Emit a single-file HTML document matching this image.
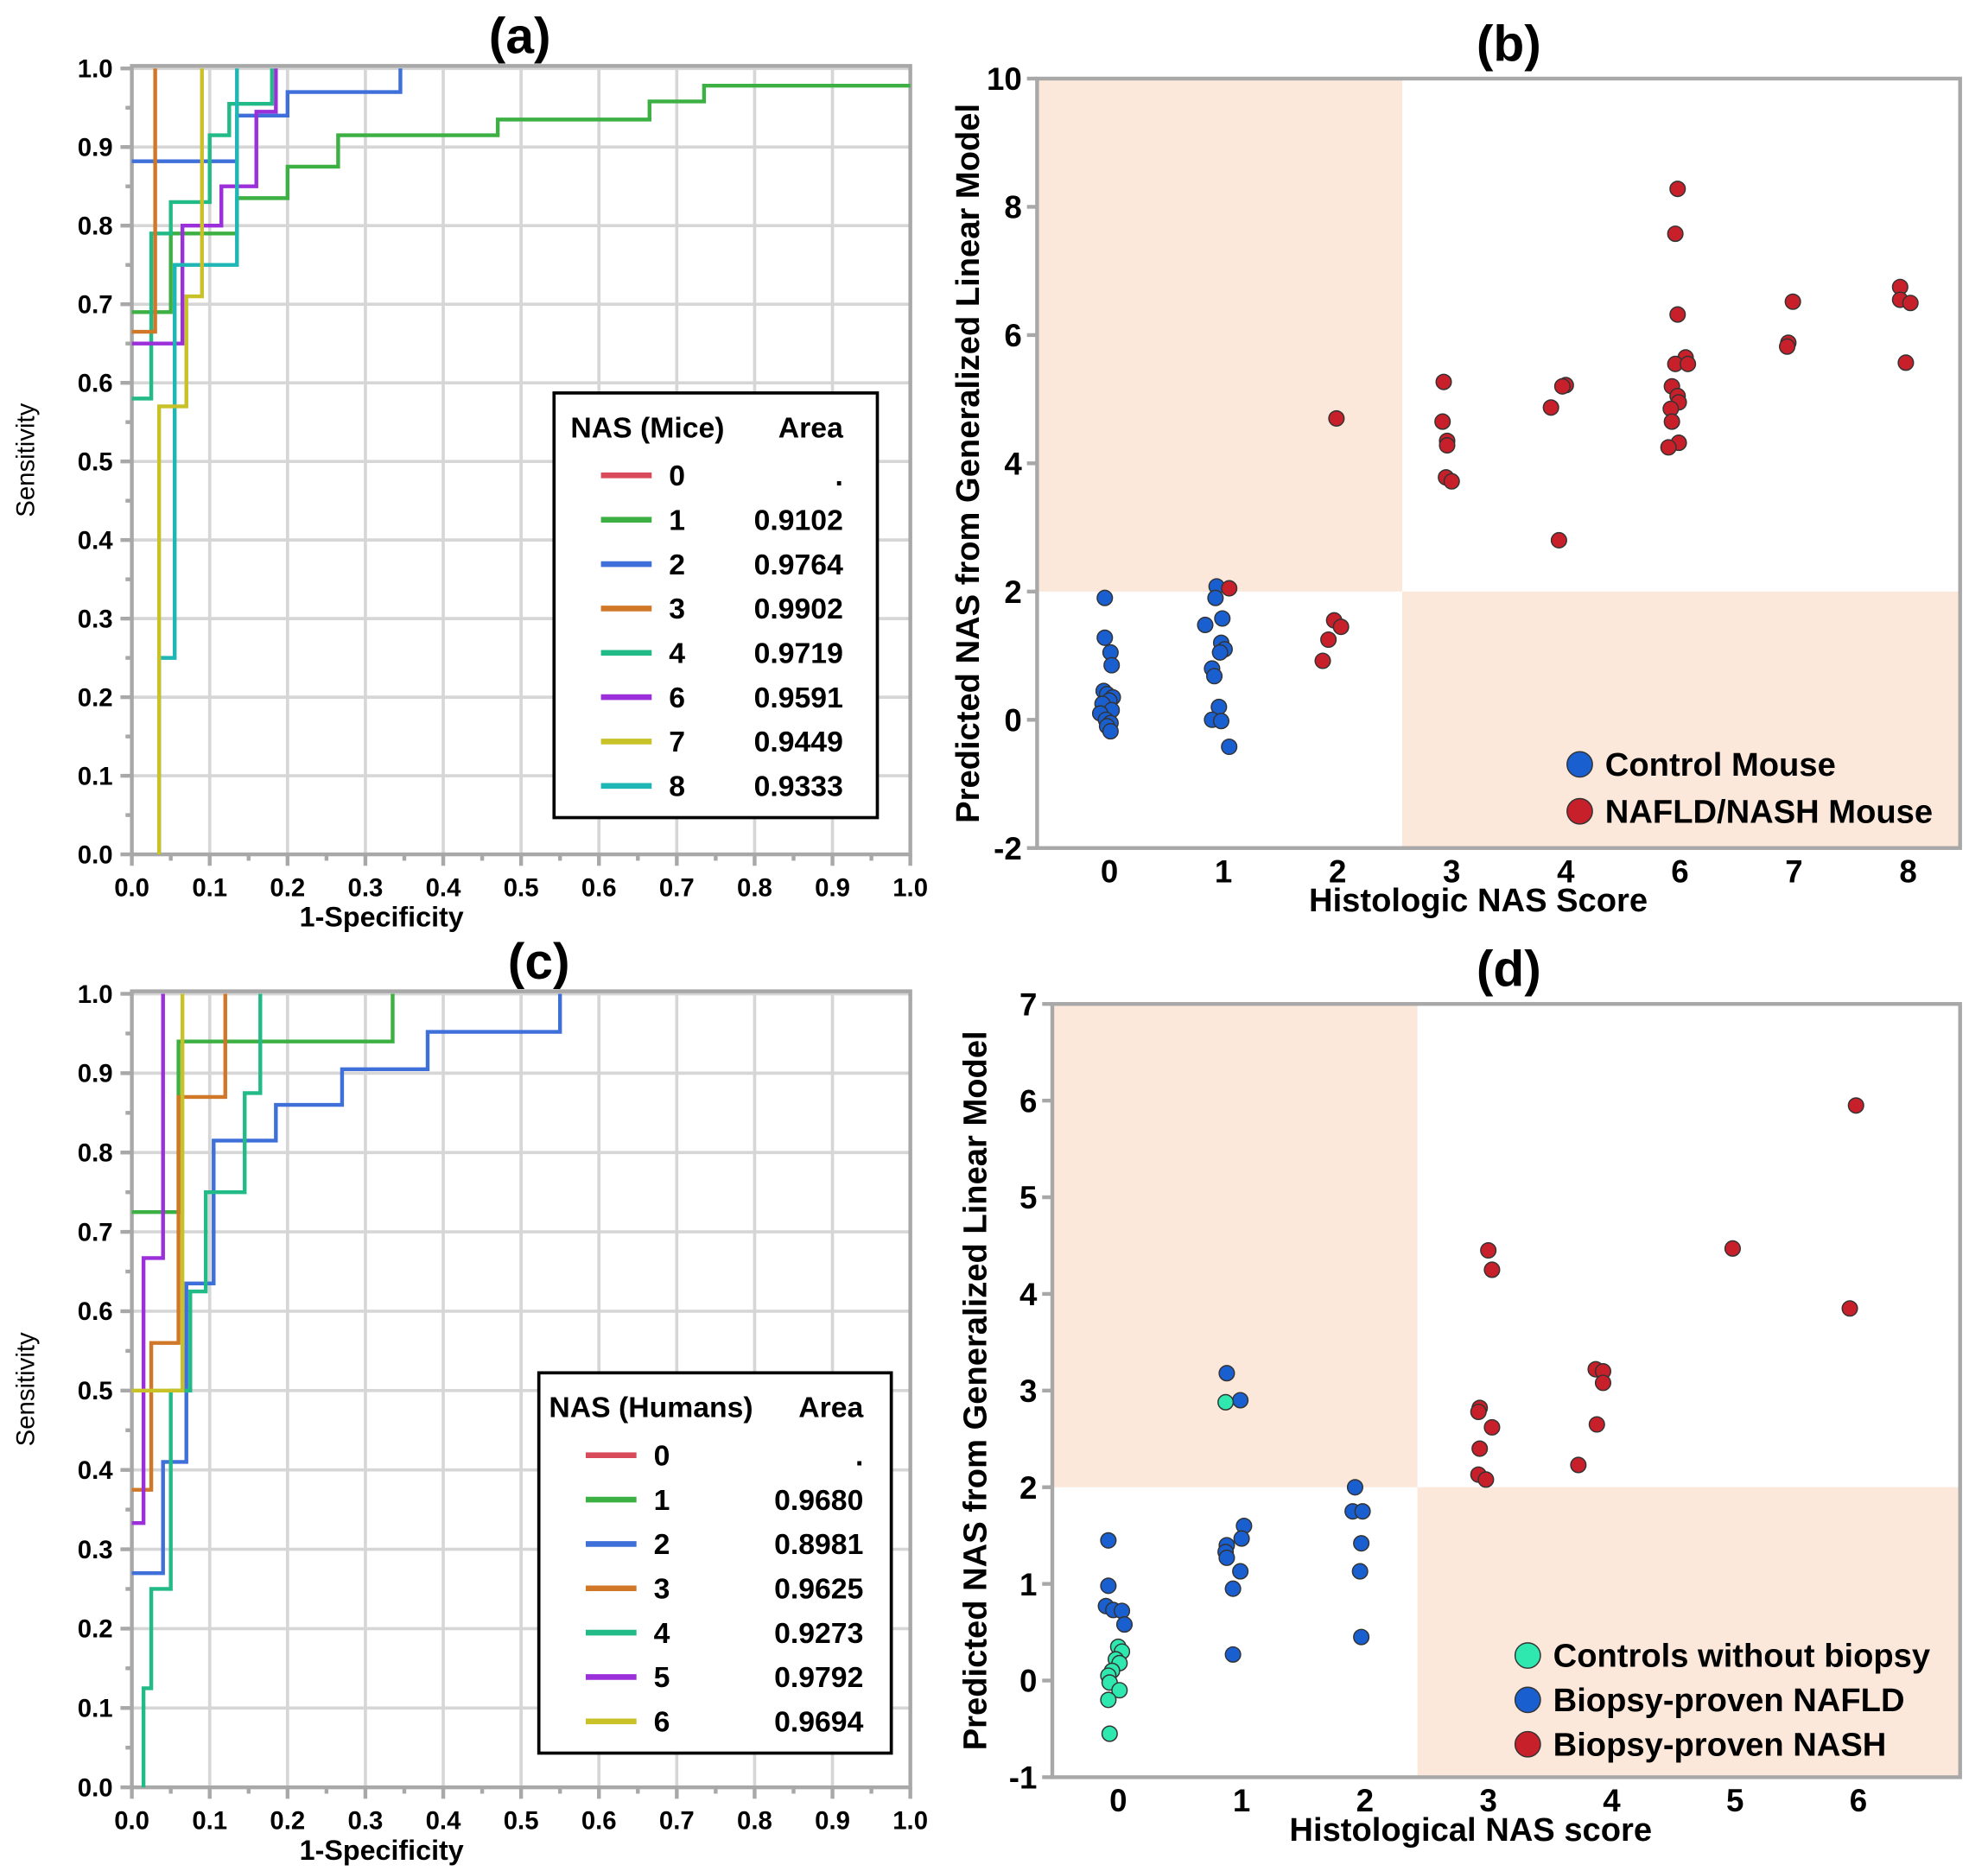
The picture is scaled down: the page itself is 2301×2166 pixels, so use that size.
<!DOCTYPE html>
<html><head><meta charset="utf-8"><style>
html,body{margin:0;padding:0;background:#fff;}
svg{display:block;font-family:"Liberation Sans","DejaVu Sans",sans-serif;}
</style></head><body>
<svg id="fig" width="2301" height="2166" viewBox="0 0 1568 1476" preserveAspectRatio="none" xmlns="http://www.w3.org/2000/svg"></svg>
<script>
// ---------- Data ----------
const rocAGroups = ["0","1","2","3","4","6","7","8"];
const rocAAreas = [".","0.9102","0.9764","0.9902","0.9719","0.9591","0.9449","0.9333"];
const rocA1 = [[0,0.69],[0.05,0.69],[0.05,0.79],[0.135,0.79],[0.135,0.835],[0.2,0.835],[0.2,0.875],[0.265,0.875],[0.265,0.915],[0.47,0.915],[0.47,0.935],[0.665,0.935],[0.665,0.958],[0.735,0.958],[0.735,0.978],[1,0.978]];
const rocA2 = [[0,0.882],[0.135,0.882],[0.135,0.94],[0.2,0.94],[0.2,0.97],[0.345,0.97],[0.345,1]];
const rocA3 = [[0,0.665],[0.03,0.665],[0.03,1]];
const rocA4 = [[0,0.58],[0.025,0.58],[0.025,0.79],[0.05,0.79],[0.05,0.83],[0.1,0.83],[0.1,0.915],[0.125,0.915],[0.125,0.955],[0.18,0.955],[0.18,1]];
const rocA6 = [[0,0.65],[0.065,0.65],[0.065,0.8],[0.115,0.8],[0.115,0.85],[0.16,0.85],[0.16,0.945],[0.185,0.945],[0.185,1]];
const rocA7 = [[0.035,0],[0.035,0.57],[0.07,0.57],[0.07,0.71],[0.09,0.71],[0.09,1]];
const rocA8 = [[0.035,0],[0.035,0.25],[0.055,0.25],[0.055,0.75],[0.135,0.75],[0.135,1]];

const rocCGroups = ["0","1","2","3","4","5","6"];
const rocCAreas = [".","0.9680","0.8981","0.9625","0.9273","0.9792","0.9694"];
const rocC1 = [[0,0.725],[0.06,0.725],[0.06,0.94],[0.335,0.94],[0.335,1]];
const rocC2 = [[0,0.27],[0.04,0.27],[0.04,0.41],[0.07,0.41],[0.07,0.635],[0.105,0.635],[0.105,0.815],[0.185,0.815],[0.185,0.86],[0.27,0.86],[0.27,0.905],[0.38,0.905],[0.38,0.952],[0.55,0.952],[0.55,1]];
const rocC3 = [[0,0.375],[0.025,0.375],[0.025,0.56],[0.06,0.56],[0.06,0.87],[0.12,0.87],[0.12,1]];
const rocC4 = [[0.015,0],[0.015,0.125],[0.025,0.125],[0.025,0.25],[0.05,0.25],[0.05,0.5],[0.075,0.5],[0.075,0.625],[0.095,0.625],[0.095,0.75],[0.145,0.75],[0.145,0.875],[0.165,0.875],[0.165,1]];
const rocC5 = [[0,0.333],[0.015,0.333],[0.015,0.667],[0.04,0.667],[0.04,1]];
const rocC6 = [[0,0.5],[0.065,0.5],[0.065,1]];

const bCategories = ["0","1","2","3","4","6","7","8"];
const bTicks = [-2,0,2,4,6,8,10];
// [jittered category index, predicted NAS]
const bControl = [[-0.04,1.9],[-0.04,1.28],[0.01,1.05],[0.02,0.85],[-0.05,0.45],[-0.02,0.4],[0.03,0.35],[0,0.3],[-0.06,0.25],[0.02,0.15],[-0.08,0.1],[-0.03,0.0],[0.01,-0.05],[-0.02,-0.1],[0.01,-0.18],
  [0.94,2.08],[0.93,1.9],[0.99,1.58],[0.84,1.48],[0.98,1.2],[1.01,1.1],[0.97,1.05],[0.9,0.8],[0.92,0.68],[0.96,0.2],[0.9,0.0],[0.98,-0.02],[1.05,-0.42]];
const bNash = [[1.05,2.05],[1.99,4.7],[1.97,1.55],[2.03,1.45],[1.92,1.25],[1.87,0.92],
  [2.93,5.27],[2.92,4.65],[2.96,4.35],[2.96,4.28],[2.95,3.78],[3.0,3.72],
  [4.0,5.22],[3.97,5.2],[3.87,4.87],[3.94,2.8],
  [4.98,8.28],[4.96,7.58],[4.98,6.32],[5.05,5.65],[4.96,5.55],[5.07,5.55],[4.93,5.2],[4.98,5.05],[4.99,4.95],[4.92,4.85],[4.93,4.65],[4.99,4.32],[4.9,4.25],
  [5.99,6.52],[5.95,5.88],[5.94,5.82],
  [6.93,6.75],[6.93,6.55],[7.02,6.5],[6.98,5.57]];

const dCategories = ["0","1","2","3","4","5","6"];
const dTicks = [-1,0,1,2,3,4,5,6,7];
const dControls = [[0.0,0.35],[0.03,0.3],[-0.02,0.22],[0.01,0.18],[-0.05,0.1],[-0.08,0.05],[-0.07,-0.02],[0.01,-0.1],[-0.08,-0.2],[-0.07,-0.55],[0.87,2.88]];
const dNafld = [[-0.08,1.45],[-0.08,0.98],[-0.1,0.77],[-0.04,0.73],[0.03,0.72],[0.05,0.58],
  [0.88,3.18],[0.99,2.9],[1.02,1.6],[1.0,1.47],[0.88,1.4],[0.87,1.33],[0.88,1.27],[0.99,1.13],[0.93,0.95],[0.93,0.27],
  [1.92,2.0],[1.9,1.75],[1.98,1.75],[1.97,1.42],[1.96,1.13],[1.97,0.45]];
const dNash = [[3.0,4.45],[3.03,4.25],[2.93,2.82],[2.92,2.78],[3.03,2.62],[2.93,2.4],[2.92,2.13],[2.98,2.08],
  [3.87,3.22],[3.93,3.2],[3.93,3.08],[3.88,2.65],[3.73,2.23],[4.98,4.47],[5.98,5.95],[5.93,3.85]];

// ---------- Helpers ----------
const NS = "http://www.w3.org/2000/svg";
const svg = document.getElementById('fig');
function mk(tag, attrs, parent, txt){
  const e = document.createElementNS(NS, tag);
  for (const k in attrs) e.setAttribute(k, attrs[k]);
  if (txt !== undefined) e.textContent = txt;
  (parent || svg).appendChild(e);
  return e;
}
const COL_A = {"0":"#d94b5a","1":"#3cb043","2":"#3f6fd9","3":"#d07828","4":"#22bb88","6":"#9b2fd9","7":"#c8c128","8":"#1fb6b6"};
const COL_C = {"0":"#d94b5a","1":"#3cb043","2":"#3f6fd9","3":"#d07828","4":"#22bb88","5":"#9b2fd9","6":"#c8c128"};

function rocPanel(opt){
  const COL = opt.colors;
  const g = mk('g', {});
  
  
  const x = v => opt.x0 + v * (opt.x1 - opt.x0);
  const y = v => opt.y0 - v * (opt.y0 - opt.y1);
  for (let i = 1; i <= 9; i++) {
    const gl = mk('line', {x1:x(i/10), x2:x(i/10), y1:opt.yt, y2:opt.y0, stroke:'#d6d6d6', 'stroke-width':2.5}, g);
     
  }
  for (let i = 1; i <= 10; i++) {
    const gl = mk('line', {x1:opt.x0, x2:opt.x1, y1:y(i/10), y2:y(i/10), stroke:'#d6d6d6', 'stroke-width':2.5}, g);
     
  }
  const fr = mk('rect', {x:opt.x0, y:opt.yt, width:opt.x1-opt.x0, height:opt.y0-opt.yt, fill:'none', stroke:'#a8a8a8', 'stroke-width':3}, g);
   
  for (let i = 0; i <= 20; i++) {
    const len = i % 2 === 0 ? 9 : 5;
    mk('line', {x1:x(i/20), x2:x(i/20), y1:opt.y0, y2:opt.y0+len, stroke:'#a8a8a8', 'stroke-width':3}, g);
    mk('line', {x1:opt.x0, x2:opt.x0-len, y1:y(i/20), y2:y(i/20), stroke:'#a8a8a8', 'stroke-width':3}, g);
  }
  for (let i = 0; i <= 10; i++) {
    const t = mk('text', {x:x(i/10), y:opt.y0+33, 'font-size':20, 'font-weight':'bold', 'text-anchor':'middle'}, g, (i/10).toFixed(1));
     
    const t2 = mk('text', {x:opt.x0-15, y:y(i/10)+7, 'font-size':20, 'font-weight':'bold', 'text-anchor':'end'}, g, (i/10).toFixed(1));
     
  }
  const xt = mk('text', {x:(opt.x0+opt.x1)/2-110, y:opt.y0+57, 'font-size':22, 'font-weight':'bold', 'text-anchor':'middle'}, g, '1-Specificity');
   
  const cy = (opt.y0+opt.yt)/2;
  const yt = mk('text', {x:27, y:cy, 'font-size':20, 'text-anchor':'middle', transform:`rotate(-90 27 ${cy})`}, g, 'Sensitivity');
   
  const ti = mk('text', {x:opt.titleX, y:opt.titleY, 'font-size':40, 'font-weight':'bold', 'text-anchor':'middle'}, g, opt.title);
   
  opt.curves.forEach(c => {
    const d = c.pts.map((p,i) => (i?'L':'M') + x(p[0]).toFixed(1) + ',' + y(p[1]).toFixed(1)).join(' ');
    const pth = mk('path', {d:d, fill:'none', stroke:COL[c.k], 'stroke-width':3}, g);
     
  });
  const L = opt.leg;
  const lb = mk('rect', {x:L.x, y:L.y, width:L.w, height:L.h, fill:'#fff', stroke:'#000', 'stroke-width':2.5}, g);
   
  const lh = mk('text', {x:L.x+L.hx, y:L.y+35, 'font-size':23, 'font-weight':'bold'}, g, L.header);
   
  const lh2 = mk('text', {x:L.x+L.ax, y:L.y+35, 'font-size':23, 'font-weight':'bold', 'text-anchor':'end'}, g, 'Area');
   
  opt.groups.forEach((k, i) => {
    const yy = L.y + 65 + i*35;
    const ln = mk('line', {x1:L.x+37, x2:L.x+77, y1:yy, y2:yy, stroke:COL[k], 'stroke-width':4.5}, g);
     
    const t1 = mk('text', {x:L.x+97, y:yy+8, 'font-size':23, 'font-weight':'bold', 'text-anchor':'middle'}, g, k);
     
    const t2 = mk('text', {x:L.x+L.ax, y:yy+8, 'font-size':23, 'font-weight':'bold', 'text-anchor':'end'}, g, opt.areas[i]);
     
  });
}

function scatterPanel(opt){
  const g = mk('g', {});
  
  
  const x = i => opt.c0 + i * opt.cs;
  const y = v => opt.y0 - (v - opt.vmin) * (opt.y0 - opt.yt) / (opt.vmax - opt.vmin);
  const s1 = mk('rect', {x:opt.x0, y:opt.yt, width:opt.split-opt.x0, height:y(2)-opt.yt, fill:'#fce8da'}, g);
   
  const s2 = mk('rect', {x:opt.split, y:y(2), width:opt.x1-opt.split, height:opt.y0-y(2), fill:'#fce8da'}, g);
   
  const fr = mk('rect', {x:opt.x0, y:opt.yt, width:opt.x1-opt.x0, height:opt.y0-opt.yt, fill:'none', stroke:'#a8a8a8', 'stroke-width':3}, g);
   
  opt.ticks.forEach(v => {
    mk('line', {x1:opt.x0, x2:opt.x0-8, y1:y(v), y2:y(v), stroke:'#a8a8a8', 'stroke-width':3}, g);
    const t = mk('text', {x:opt.x0-12, y:y(v)+9, 'font-size':25, 'font-weight':'bold', 'text-anchor':'end'}, g, String(v));
     
  });
  opt.cats.forEach((c, i) => {
    const t = mk('text', {x:x(i), y:opt.y0+27, 'font-size':25, 'font-weight':'bold', 'text-anchor':'middle'}, g, c);
     
  });
  const xt = mk('text', {x:opt.xtX, y:opt.y0+50, 'font-size':26, 'font-weight':'bold', 'text-anchor':'middle'}, g, opt.xtitle);
   
  const cy = (opt.y0+opt.yt)/2;
  const yt = mk('text', {x:opt.ytX, y:cy, 'font-size':26, 'font-weight':'bold', 'text-anchor':'middle', transform:`rotate(-90 ${opt.ytX} ${cy})`}, g, 'Predicted NAS from Generalized Linear Model');
   
  const ti = mk('text', {x:opt.titleX, y:opt.titleY, 'font-size':40, 'font-weight':'bold', 'text-anchor':'middle'}, g, opt.title);
   
  opt.series.forEach(s => {
    s.data.forEach(p => {
      const c = mk('circle', {cx:x(p[0]).toFixed(1), cy:y(p[1]).toFixed(1), r:6, fill:s.color, stroke:'#333', 'stroke-width':1}, g);
      
      
    });
  });
  opt.legend.forEach((l, i) => {
    const yy = opt.legY + i*opt.legGap;
    const c = mk('circle', {cx:opt.legX, cy:yy, r:10, fill:l.color, stroke:'#333', 'stroke-width':1}, g);
     
    const t = mk('text', {x:opt.legX+20, y:yy+9, 'font-size':26, 'font-weight':'bold'}, g, l.label);
     
  });
}

rocPanel({name:'panel-a-roc-mice', colors:COL_A, x0:104, x1:718, y0:674, y1:54, yt:52, title:'(a)', titleX:410, titleY:42,
  groups:rocAGroups, areas:rocAAreas,
  curves:[{k:'1',pts:rocA1},{k:'2',pts:rocA2},{k:'4',pts:rocA4},{k:'6',pts:rocA6},{k:'8',pts:rocA8},{k:'7',pts:rocA7},{k:'3',pts:rocA3}],
  leg:{x:437, y:310, w:255, h:335, header:'NAS (Mice)', hx:13, ax:228}});
rocPanel({name:'panel-c-roc-humans', colors:COL_C, x0:104, x1:718, y0:1410, y1:784, yt:782, title:'(c)', titleX:425, titleY:772,
  groups:rocCGroups, areas:rocCAreas,
  curves:[{k:'1',pts:rocC1},{k:'2',pts:rocC2},{k:'4',pts:rocC4},{k:'3',pts:rocC3},{k:'5',pts:rocC5},{k:'6',pts:rocC6}],
  leg:{x:425, y:1083, w:278, h:300, header:'NAS (Humans)', hx:8, ax:256}});

scatterPanel({name:'panel-b-scatter-mice', x0:818, x1:1546, yt:62, y0:669, vmin:-2, vmax:10,
  c0:875, cs:90, split:1106, ticks:bTicks, cats:bCategories, title:'(b)', titleX:1190, titleY:48,
  xtitle:'Histologic NAS Score', xtX:1166, ytX:772,
  series:[{data:bControl, color:'#1a5fd0', pt:'control-mouse-point'},{data:bNash, color:'#c8202a', pt:'nash-mouse-point'}],
  legend:[{label:'Control Mouse', color:'#1a5fd0'},{label:'NAFLD/NASH Mouse', color:'#c8202a'}], legX:1246, legY:603, legGap:37});
scatterPanel({name:'panel-d-scatter-humans', x0:830, x1:1546, yt:792, y0:1402, vmin:-1, vmax:7,
  c0:882, cs:97.3, split:1118, ticks:dTicks, cats:dCategories, title:'(d)', titleX:1190, titleY:778,
  xtitle:'Histological NAS score', xtX:1160, ytX:778,
  series:[{data:dNafld, color:'#1a5fd0', pt:'nafld-point'},{data:dNash, color:'#c8202a', pt:'nash-point'},{data:dControls, color:'#2ee8b0', pt:'control-point'}],
  legend:[{label:'Controls without biopsy', color:'#2ee8b0'},{label:'Biopsy-proven NAFLD', color:'#1a5fd0'},{label:'Biopsy-proven NASH', color:'#c8202a'}], legX:1205, legY:1306, legGap:35});
</script>
</body></html>
